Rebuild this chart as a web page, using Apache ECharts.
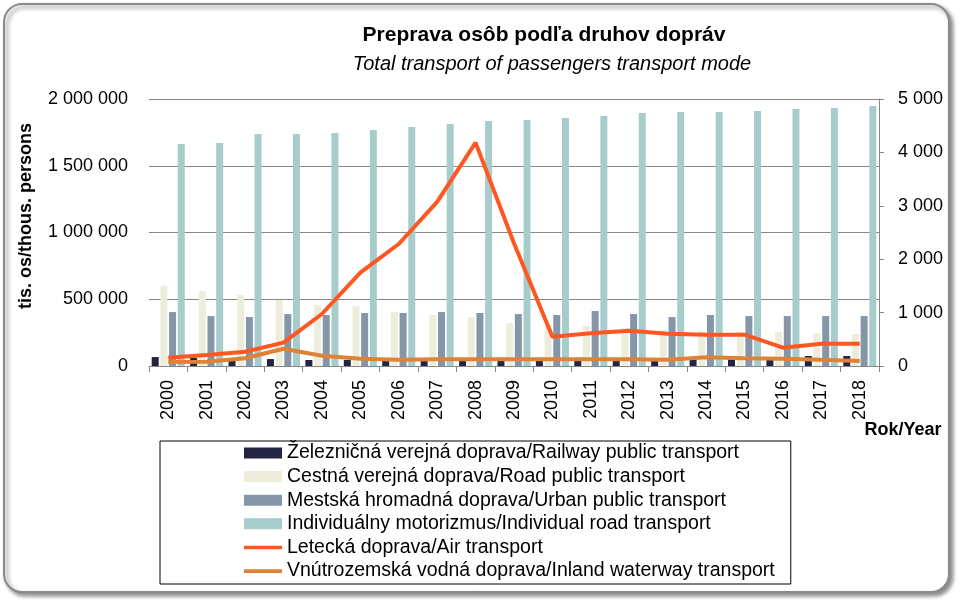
<!DOCTYPE html>
<html>
<head>
<meta charset="utf-8">
<script src="https://cdn.jsdelivr.net/npm/echarts@6/dist/echarts.min.js"></script>
<style>html,body{margin:0;padding:0;background:#fff}#c{width:962px;height:606px}</style>
</head>
<body>
<div id="c"></div>
<script>
const years = ['2000','2001','2002','2003','2004','2005','2006','2007','2008','2009','2010','2011','2012','2013','2014','2015','2016','2017','2018'];
const railway = [67000, 60000, 55000, 52000, 45000, 45000, 45000, 45000, 45000, 45000, 45000, 45000, 45000, 45000, 47000, 50000, 60000, 75000, 75000];
const road = [599000, 562000, 532000, 494000, 457000, 449000, 404000, 382000, 367000, 322000, 310000, 300000, 285000, 270000, 262000, 258000, 255000, 247000, 240000];
const urban = [404000, 374000, 367000, 389000, 382000, 397000, 397000, 404000, 397000, 389000, 382000, 412000, 389000, 367000, 382000, 374000, 374000, 374000, 374000];
const individual = [1663000, 1670000, 1738000, 1738000, 1745000, 1768000, 1790000, 1813000, 1835000, 1843000, 1858000, 1873000, 1895000, 1903000, 1903000, 1910000, 1925000, 1932000, 1947000];
const air = [155, 206, 268, 437, 974, 1748, 2285, 3072, 4183, 2300, 549, 612, 662, 605, 587, 587, 343, 418, 418];
const waterway = [75, 78, 144, 324, 193, 137, 118, 125, 125, 125, 125, 125, 125, 118, 162, 144, 137, 118, 94];
const names = [
  'Železničná verejná doprava/Railway public transport',
  'Cestná verejná doprava/Road public transport',
  'Mestská hromadná doprava/Urban public transport',
  'Individuálny motorizmus/Individual road transport',
  'Letecká doprava/Air transport',
  'Vnútrozemská vodná doprava/Inland waterway transport'
];
const colors = ['#232442', '#EEEDDC', '#8496A8', '#A6CDCC', '#FF5722', '#DE8236'];
const FONT = '"Liberation Sans", Arial, sans-serif';
const fmt = v => String(v).replace(/\B(?=(\d{3})+(?!\d))/g, ' ');
const lineIcon = 'path://M0,0 M38,11 M0,3.8 L38,3.8 L38,7.4 L0,7.4 Z';

const chart = echarts.init(document.getElementById('c'), null, {renderer: 'canvas'});
const barSeries = [railway, road, urban, individual].map((d, i) => ({
  name: names[i], type: 'bar', data: d, yAxisIndex: 0,
  barWidth: 7, barGap: '24%',
  itemStyle: {color: colors[i]}
}));
const lineSeries = [air, waterway].map((d, i) => ({
  name: names[4 + i], type: 'line', data: d, yAxisIndex: 1,
  symbol: 'none', showSymbol: false,
  lineStyle: {color: colors[4 + i], width: 4},
  itemStyle: {color: colors[4 + i]},
  z: 4 - i
}));

chart.setOption({
  animation: false,
  textStyle: {fontFamily: FONT},
  title: [
    {text: 'Preprava osôb podľa druhov dopráv', left: 539, top: 20, textAlign: 'center',
     textStyle: {fontFamily: FONT, fontWeight: 'bold', fontSize: 21, color: '#000'}},
    {text: 'Total transport of passengers transport mode', left: 547, top: 49, textAlign: 'center',
     textStyle: {fontFamily: FONT, fontStyle: 'italic', fontWeight: 'normal', fontSize: 20, color: '#000'}}
  ],
  grid: {left: 149, right: 83, top: 99, bottom: 240, containLabel: false},
  legend: {
    orient: 'vertical', left: 160, top: 441,
    padding: [2, 16, 3, 84],
    borderColor: '#000', borderWidth: 1,
    itemWidth: 38, itemHeight: 11, itemGap: 3.6,
    textStyle: {fontFamily: FONT, fontSize: 19.5, color: '#000', lineHeight: 20},
    data: names.map((n, i) => ({name: n, icon: i < 4 ? 'rect' : lineIcon}))
  },
  xAxis: {
    type: 'category', data: years, boundaryGap: true,
    axisLine: {show: true, lineStyle: {color: '#868686', width: 1}},
    axisTick: {show: true, length: 6, lineStyle: {color: '#868686'}},
    axisLabel: {rotate: 90, margin: 14, fontSize: 18, color: '#000', fontFamily: FONT, interval: 0}
  },
  yAxis: [
    {type: 'value', min: 0, max: 2000000, interval: 500000,
     axisLine: {show: false}, axisTick: {show: false},
     splitLine: {lineStyle: {color: '#868686', width: 1}},
     axisLabel: {formatter: fmt, margin: 21, fontSize: 18, color: '#000', fontFamily: FONT}},
    {type: 'value', min: 0, max: 5000, interval: 1000, position: 'right',
     axisLine: {show: true, lineStyle: {color: '#868686', width: 1}},
     axisTick: {show: true, length: 5, lineStyle: {color: '#868686'}},
     splitLine: {show: false},
     axisLabel: {formatter: fmt, margin: 19, fontSize: 18, color: '#000', fontFamily: FONT}}
  ],
  graphic: [
    {type: 'rect', z: -100, silent: true,
     shape: {x: 4, y: 4, width: 945, height: 588, r: 18},
     style: {fill: '#fff', stroke: '#8a8a8a', lineWidth: 2, shadowBlur: 4, shadowOffsetX: 3, shadowOffsetY: 3, shadowColor: 'rgba(0,0,0,0.45)'}},
    {type: 'text', x: 26, y: 216, rotation: Math.PI / 2, z: 10,
     style: {text: 'tis. os/thous. persons', font: 'bold 18px ' + FONT, fill: '#000',
             textAlign: 'center', textVerticalAlign: 'middle', align: 'center', verticalAlign: 'middle'}},
    {type: 'text', x: 903, y: 430, z: 10,
     style: {text: 'Rok/Year', font: 'bold 18px ' + FONT, fill: '#000',
             textAlign: 'center', textVerticalAlign: 'middle', align: 'center', verticalAlign: 'middle'}}
  ],
  series: barSeries.concat(lineSeries)
});
</script>
</body>
</html>
